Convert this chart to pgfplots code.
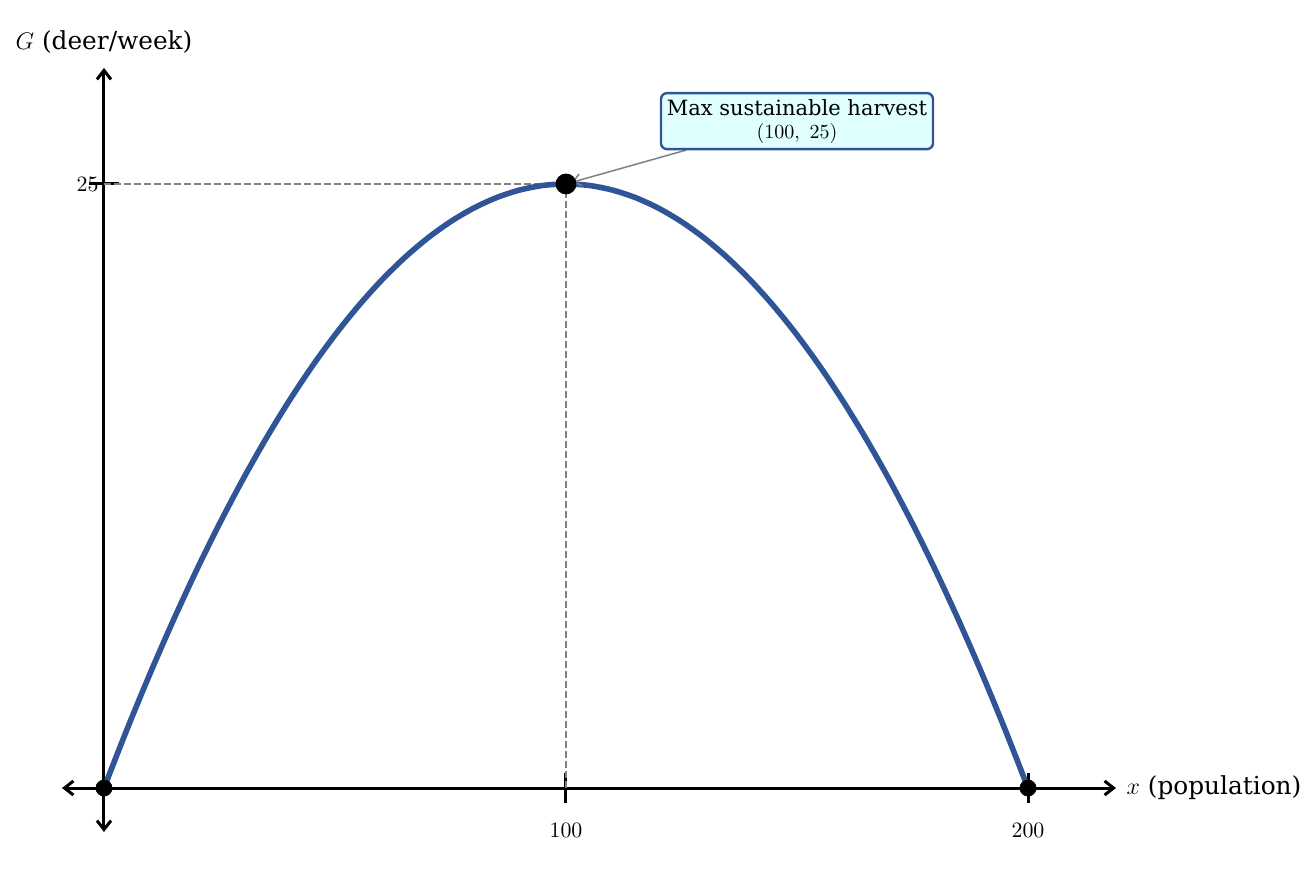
\documentclass[border=0pt]{standalone}
\usepackage{fontspec}
\setmainfont{DejaVu Serif}
\usepackage{pgfplots}
\pgfplotsset{compat=1.18}
\usetikzlibrary{arrows.meta}

\definecolor{curveblue}{RGB}{47,85,151}
\definecolor{boxfill}{RGB}{224,255,255}
\definecolor{guide}{RGB}{128,128,128}

\begin{document}
\begin{tikzpicture}
\path[use as bounding box] (-31pt,-22pt) rectangle (627pt,416pt);
\begin{axis}[
  at={(0pt,0pt)}, anchor=south west,
  scale only axis, width=527pt, height=382pt,
  axis lines=middle,
  axis line style={line width=1.5pt, black, {Straight Barb[length=4.5pt,width=7pt]}-{Straight Barb[length=4.5pt,width=7pt]}},
  xmin=-9.09, xmax=219.05,
  ymin=-1.82, ymax=29.8,
  xtick={100,200}, ytick={25},
  tick align=center, major tick length=15pt,
  every tick/.style={line width=1.5pt, black},
  tick label style={font=\fontsize{11}{13}\selectfont},
  xticklabel style={anchor=north, inner sep=0pt, yshift=-10pt},
  yticklabel style={anchor=east, inner sep=0pt, xshift=5pt},
  xlabel={$x$ (population)},
  ylabel={$G$ (deer/week)},
  label style={font=\fontsize{12.4}{14}\selectfont},
  xlabel style={at={(current axis.right of origin)}, anchor=west, inner sep=0pt, xshift=5pt},
  ylabel style={at={(current axis.above origin)}, anchor=south, rotate=0, inner sep=0pt, yshift=7pt},
  clip=false,
]
% guide lines to the maximum
\addplot[guide, line width=1pt, dash pattern=on 3.5pt off 1.5pt] coordinates {(0,25) (100,25)};
\addplot[guide, line width=1pt, dash pattern=on 3.5pt off 1.5pt] coordinates {(100,0) (100,25)};

% growth curve G(x)
\addplot[curveblue, line width=2.8pt, smooth] coordinates {
  (0,0) (5,2.4375) (10,4.75) (15,6.9375) (20,9) (25,10.9375)
  (30,12.75) (35,14.4375) (40,16) (45,17.4375) (50,18.75)
  (55,19.9375) (60,21) (65,21.9375) (70,22.75) (75,23.4375)
  (80,24) (85,24.4375) (90,24.75) (95,24.9375) (100,25)
  (105,24.9375) (110,24.75) (115,24.4375) (120,24) (125,23.4375)
  (130,22.75) (135,21.9375) (140,21) (145,19.9375) (150,18.75)
  (155,17.4375) (160,16) (165,14.4375) (170,12.75) (175,10.9375)
  (180,9) (185,6.9375) (190,4.75) (195,2.4375) (200,0)
};

% zeros and maximum
\addplot[only marks, mark=*, mark size=4pt, black] coordinates {(0,0) (200,0)};
\addplot[only marks, mark=*, mark size=5pt, black] coordinates {(100,25)};

\draw[guide, line width=0.75pt, -{Straight Barb[length=4pt,width=6pt]}, shorten >=3pt]
  (axis cs:126,26.4) -- (axis cs:100,25);
\node[draw=curveblue, fill=boxfill, rounded corners=3pt, line width=1.2pt,
      align=center, minimum width=136pt, minimum height=28pt, inner sep=1pt,
      font=\fontsize{10.5}{12.5}\selectfont]
  at (axis cs:150,27.6) {Max sustainable harvest\\[-1pt]{\fontsize{10.3}{12}\selectfont$(100,\ 25)$}};
\end{axis}
\end{tikzpicture}
\end{document}
